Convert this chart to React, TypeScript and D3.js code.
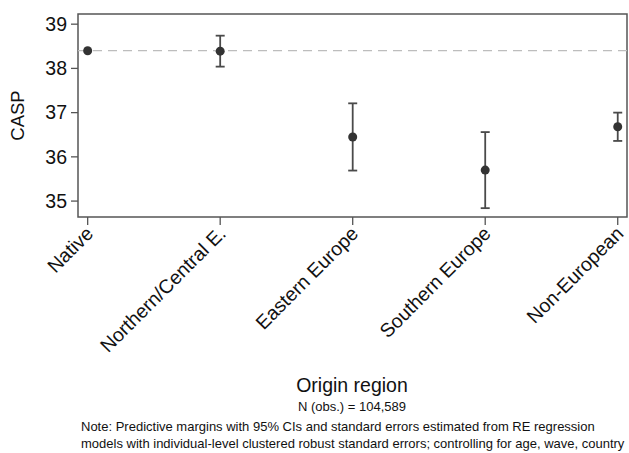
import * as d3 from 'd3'

const regions = ['Native', 'Northern/Central E.', 'Eastern Europe', 'Southern Europe', 'Non-European']
const margins = [38.4, 38.39, 36.45, 35.7, 36.68]
const ciLow = [38.4, 38.04, 35.69, 34.84, 36.36]
const ciHigh = [38.4, 38.74, 37.21, 36.56, 37.0]
const yTicks = [35, 36, 37, 38, 39]
const refValue = 38.4

const width = 629
const height = 453
const box = { left: 78, top: 14, right: 627, bottom: 217 }
const font = '"Liberation Sans", Arial, Helvetica, sans-serif'

export default function App() {
  const x = d3.scaleLinear().domain([-0.073, 4.07]).range([box.left, box.right])
  const y = d3.scaleLinear().domain([34.64, 39.23]).range([box.bottom, box.top])
  const axisColor = '#555'

  return (
    <svg width={width} height={height} style={{ position: 'absolute', left: 0, top: 0, background: '#fff' }} fontFamily={font}>
      {/* plot frame */}
      <rect x={box.left} y={box.top} width={box.right - box.left} height={box.bottom - box.top} fill="#fff" stroke={axisColor} strokeWidth={1.5} />

      {/* reference line at native level */}
      <line x1={box.left} x2={box.right} y1={y(refValue)} y2={y(refValue)} stroke="#bdbdbd" strokeWidth={1.3} strokeDasharray="9 6" />

      {/* y axis */}
      {yTicks.map(t => (
        <g key={t}>
          <line x1={box.left - 7} x2={box.left} y1={y(t)} y2={y(t)} stroke={axisColor} strokeWidth={1.3} />
          <text x={box.left - 11} y={y(t)} dy="0.35em" textAnchor="end" fontSize={19.5} fill="#111">{t}</text>
        </g>
      ))}
      <text transform={`translate(24,${(box.top + box.bottom) / 2}) rotate(-90)`} textAnchor="middle" fontSize={18.5} fill="#111">CASP</text>

      {/* x axis */}
      {regions.map((r, i) => (
        <g key={r}>
          <line x1={x(i)} x2={x(i)} y1={box.bottom} y2={box.bottom + 8} stroke={axisColor} strokeWidth={1.3} />
          <text transform={`translate(${x(i) + 2},${box.bottom + 13}) rotate(-45)`} dy="0.35em" textAnchor="end" fontSize={19.5} fill="#111">{r}</text>
        </g>
      ))}

      {/* confidence intervals */}
      {regions.map((r, i) => ciHigh[i] - ciLow[i] > 0.01 && (
        <g key={r} stroke="#4a4a4a" strokeWidth={1.8}>
          <line x1={x(i)} x2={x(i)} y1={y(ciLow[i])} y2={y(ciHigh[i])} />
          <line x1={x(i) - 4.5} x2={x(i) + 4.5} y1={y(ciLow[i])} y2={y(ciLow[i])} />
          <line x1={x(i) - 4.5} x2={x(i) + 4.5} y1={y(ciHigh[i])} y2={y(ciHigh[i])} />
        </g>
      ))}

      {/* point estimates */}
      {margins.map((m, i) => (
        <circle key={regions[i]} cx={x(i)} cy={y(m)} r={4.5} fill="#333" />
      ))}

      <text x={352} y={392} textAnchor="middle" fontSize={19.5} fill="#111">Origin region</text>
      <text x={352} y={411} textAnchor="middle" fontSize={13} fill="#111">N (obs.) = 104,589</text>
      <text x={81} y={430.5} fontSize={13} fill="#111">Note: Predictive margins with 95% CIs and standard errors estimated from RE regression</text>
      <text x={81} y={447.5} fontSize={13} fill="#111">models with individual-level clustered robust standard errors; controlling for age, wave, country</text>
    </svg>
  )
}
